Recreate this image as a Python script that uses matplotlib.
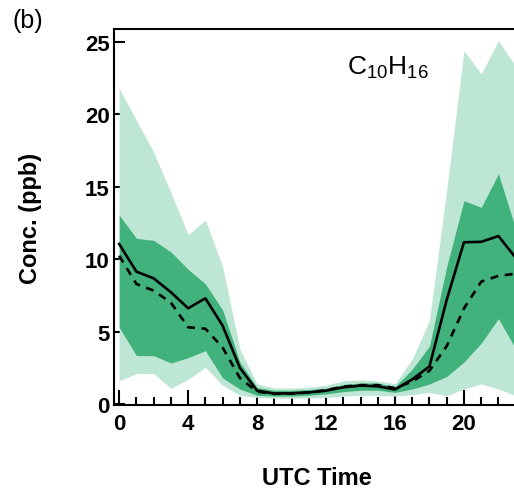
import numpy as np
import matplotlib
matplotlib.use("Agg")
import matplotlib.pyplot as plt
from matplotlib.ticker import MultipleLocator

plt.rcParams['font.family'] = ['Liberation Sans', 'DejaVu Sans']
plt.rcParams['mathtext.fontset'] = 'custom'
plt.rcParams['mathtext.rm'] = 'Liberation Sans'

# diurnal C10H16 statistics, UTC hour 0..23
hours = np.arange(24)
mean_ppb = [11.05, 9.14, 8.68, 7.72, 6.61, 7.3, 5.41, 2.5, 0.92, 0.72, 0.74, 0.8,
            0.92, 1.15, 1.27, 1.22, 1.0, 1.7, 2.6, 7.2, 11.17, 11.2, 11.6, 10.1]
median_ppb = [10.24, 8.29, 7.83, 7.0, 5.3, 5.2, 3.9, 1.8, 0.85, 0.7, 0.72, 0.8,
              0.95, 1.2, 1.3, 1.3, 1.1, 1.55, 2.3, 4.0, 6.6, 8.45, 8.85, 9.0]
p75 = [13.05, 11.44, 11.3, 10.5, 9.3, 8.3, 6.5, 2.9, 1.14, 0.95, 0.95, 1.0,
       1.1, 1.35, 1.45, 1.45, 1.2, 2.4, 4.0, 9.5, 14.04, 13.58, 15.9, 12.1]
p25 = [5.3, 3.34, 3.34, 2.83, 3.2, 3.68, 1.8, 1.03, 0.6, 0.55, 0.55, 0.6,
       0.7, 0.85, 0.95, 0.95, 0.8, 1.04, 1.38, 1.9, 2.9, 4.2, 5.9, 3.8]
p90 = [21.8, 19.6, 17.4, 14.6, 11.7, 12.7, 9.5, 3.8, 1.4, 1.1, 1.1, 1.15,
       1.3, 1.6, 1.65, 1.6, 1.4, 3.1, 5.8, 14.8, 24.4, 22.8, 25.1, 23.3]
p10 = [1.6, 2.1, 2.1, 1.08, 1.7, 2.53, 1.3, 0.6, 0.46, 0.4, 0.4, 0.42,
       0.45, 0.55, 0.6, 0.6, 0.55, 0.65, 0.8, 0.57, 1.04, 1.38, 1.04, 0.57]

light_green = '#bee6d4'
dark_green = '#41b27b'

fig = plt.figure(figsize=(5.14, 5.02), dpi=100)
# axes runs past the right edge, like the cropped original
ax = fig.add_axes([114 / 514, 96 / 502, 406 / 514, 376 / 502])

ax.fill_between(hours, p10, p90, color=light_green, lw=0, zorder=1)
ax.fill_between(hours, p25, p75, color=dark_green, lw=0, zorder=1.1)
ax.plot(hours, mean_ppb, color='black', lw=1.9, zorder=3)
ax.plot(hours, median_ppb, color='black', lw=1.9, ls=(0, (3, 2.5)), zorder=3)

ax.set_xlim(-0.3, 23.25)
ax.set_ylim(-0.07, 25.9)
ax.set_axisbelow(True)

ax.xaxis.set_major_locator(MultipleLocator(4))
ax.xaxis.set_minor_locator(MultipleLocator(1))
ax.yaxis.set_major_locator(MultipleLocator(5))

for side in ['left', 'bottom', 'top', 'right']:
    ax.spines[side].set_linewidth(1.5)

ax.tick_params(axis='both', which='major', direction='in', width=1.5,
               labelsize=16, top=False, right=False)
ax.tick_params(axis='x', which='major', length=10.5, pad=6)
ax.tick_params(axis='x', which='minor', direction='in', length=5.8, width=1.5, top=False)
ax.tick_params(axis='y', which='major', length=8, pad=3)
for lab in ax.get_xticklabels() + ax.get_yticklabels():
    lab.set_fontweight('bold')

ax.set_xlabel('UTC Time', fontsize=17, fontweight='bold', labelpad=23)
ax.set_ylabel('Conc. (ppb)', fontsize=17, fontweight='bold', labelpad=31)

ax.text(15.6, 22.8, r'$\mathrm{C_{10}H_{16}}$', fontsize=19, ha='center', va='baseline')
fig.text(12 / 514, 1 - 28 / 502, '(b)', fontsize=18, ha='left', va='baseline')

fig.savefig('out.png', dpi=100)
